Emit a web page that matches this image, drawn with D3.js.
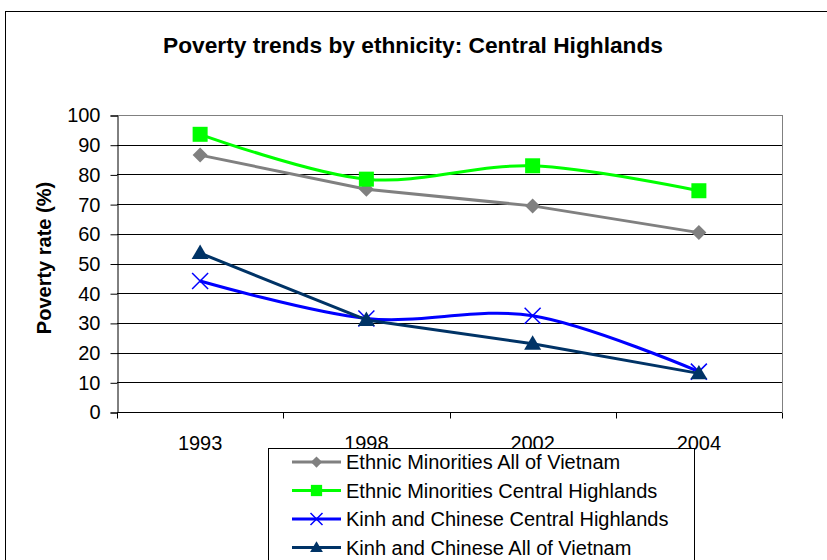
<!DOCTYPE html>
<html lang="en">
<head>
<meta charset="UTF-8">
<title>Poverty trends by ethnicity: Central Highlands</title>
<script src="https://cdnjs.cloudflare.com/ajax/libs/d3/7.8.5/d3.min.js"></script>
<style>
    body { margin: 0; background: #fff; font-family: Arial, 'Liberation Sans', sans-serif; }
    svg { display: block; }
</style>
</head>
<body>
<svg id="chart" width="827" height="560"></svg>
<script>
    // data
    const years = ['1993', '1998', '2002', '2004'];
    const yTicks = [0, 10, 20, 30, 40, 50, 60, 70, 80, 90, 100];
    const emAllVietnam = [86.5, 75, 69.4, 60.4];
    const emCentralHighlands = [93.5, 78.4, 82.9, 74.5];
    const kcCentralHighlands = [44.1, 31.5, 32.4, 13.6];
    const kcAllVietnam = [53.5, 31, 23, 13];

    const series = [
        { name: 'Ethnic Minorities All of Vietnam', values: emAllVietnam, color: '#808080', marker: 'diamond', smooth: false },
        { name: 'Ethnic Minorities Central Highlands', values: emCentralHighlands, color: '#00ff00', marker: 'square', smooth: true },
        { name: 'Kinh and Chinese Central Highlands', values: kcCentralHighlands, color: '#0000ff', marker: 'cross', smooth: true },
        { name: 'Kinh and Chinese All of Vietnam', values: kcAllVietnam, color: '#003366', marker: 'triangle', smooth: false }
    ];

    const svg = d3.select('#chart');
    const plot = { left: 117, top: 115, right: 782, bottom: 412 };

    // outer chart frame (cropped at right and bottom)
    svg.append('rect')
        .attr('x', 5.5).attr('y', 11.5)
        .attr('width', 900).attr('height', 700)
        .attr('fill', 'none').attr('stroke', '#000').attr('stroke-width', 1);

    svg.append('text')
        .attr('x', 413).attr('y', 53)
        .attr('text-anchor', 'middle')
        .attr('font-size', 22).attr('font-weight', 'bold')
        .attr('textLength', 500).attr('lengthAdjust', 'spacingAndGlyphs')
        .text('Poverty trends by ethnicity: Central Highlands');

    const x = d3.scaleBand().domain(years).range([plot.left, plot.right]);
    const y = d3.scaleLinear().domain([0, 100]).range([plot.bottom, plot.top]);

    // gridlines
    svg.append('g').selectAll('line')
        .data(yTicks.filter(d => d > 0))
        .join('line')
        .attr('x1', plot.left).attr('x2', plot.right)
        .attr('y1', d => Math.round(y(d)) + 0.5).attr('y2', d => Math.round(y(d)) + 0.5)
        .attr('stroke', d => d === 100 ? '#808080' : '#000')
        .attr('stroke-width', 1);

    // right border of plot area
    svg.append('line')
        .attr('x1', plot.right + 0.5).attr('x2', plot.right + 0.5)
        .attr('y1', plot.top).attr('y2', plot.bottom)
        .attr('stroke', '#808080');

    // y axis
    const yAxis = svg.append('g')
        .attr('transform', `translate(${plot.left + 0.5},0.5)`)
        .call(d3.axisLeft(y).tickValues(yTicks).tickSize(7).tickPadding(10));
    yAxis.select('.domain').attr('stroke', '#000');
    yAxis.selectAll('text').attr('font-size', 20).attr('font-family', 'Arial, Liberation Sans, sans-serif').attr('fill', '#000');

    // x axis with ticks at category boundaries
    const xAxis = svg.append('g')
        .attr('transform', `translate(0,${plot.bottom + 0.5})`);
    xAxis.append('line')
        .attr('x1', plot.left).attr('x2', plot.right)
        .attr('stroke', '#000');
    const bounds = years.map(d => x(d)).concat([plot.right]);
    xAxis.selectAll('line.tick')
        .data(bounds)
        .join('line')
        .attr('class', 'tick')
        .attr('x1', d => Math.round(d) + 0.5).attr('x2', d => Math.round(d) + 0.5)
        .attr('y1', 0).attr('y2', 6)
        .attr('stroke', '#000');
    xAxis.selectAll('text')
        .data(years)
        .join('text')
        .attr('x', d => x(d) + x.bandwidth() / 2)
        .attr('y', 37)
        .attr('text-anchor', 'middle')
        .attr('font-size', 20)
        .text(d => d);

    // y axis title
    svg.append('text')
        .attr('transform', 'translate(51,258) rotate(-90)')
        .attr('text-anchor', 'middle')
        .attr('font-size', 20).attr('font-weight', 'bold')
        .text('Poverty rate (%)');

    function drawMarker(g, type, color, cx, cy, scale) {
        const s = scale || 1;
        if (type === 'diamond') {
            const r = 7.5 * s;
            g.append('path')
                .attr('d', `M${cx},${cy - r}L${cx + r},${cy}L${cx},${cy + r}L${cx - r},${cy}Z`)
                .attr('fill', color);
        } else if (type === 'square') {
            const r = 7.5 * s;
            g.append('rect')
                .attr('x', cx - r).attr('y', cy - r)
                .attr('width', 2 * r).attr('height', 2 * r)
                .attr('fill', color);
        } else if (type === 'cross') {
            const r = 8 * s;
            g.append('path')
                .attr('d', `M${cx - r},${cy - r}L${cx + r},${cy + r}M${cx - r},${cy + r}L${cx + r},${cy - r}`)
                .attr('stroke', color).attr('stroke-width', 1.5).attr('fill', 'none');
        } else if (type === 'triangle') {
            const r = 8.5 * s;
            g.append('path')
                .attr('d', `M${cx},${cy - r}L${cx + r},${cy + r * 0.7}L${cx - r},${cy + r * 0.7}Z`)
                .attr('fill', color);
        }
    }

    const cx = d => x(d) + x.bandwidth() / 2;

    series.forEach(s => {
        const pts = years.map((yr, i) => [cx(yr), y(s.values[i])]);
        const line = d3.line()
            .curve(s.smooth ? d3.curveCardinal.tension(0) : d3.curveLinear);
        svg.append('path')
            .attr('d', line(pts))
            .attr('fill', 'none')
            .attr('stroke', s.color)
            .attr('stroke-width', 3)
            .attr('stroke-linejoin', 'round');
    });

    series.forEach(s => {
        const g = svg.append('g');
        years.forEach((yr, i) => drawMarker(g, s.marker, s.color, cx(yr), y(s.values[i])));
    });

    // legend
    const legend = svg.append('g');
    legend.append('rect')
        .attr('x', 268.5).attr('y', 448.5)
        .attr('width', 426).attr('height', 200)
        .attr('fill', '#fff').attr('stroke', '#000');
    series.forEach((s, i) => {
        const ly = 462 + i * 28.5;
        legend.append('line')
            .attr('x1', 292).attr('x2', 341)
            .attr('y1', ly).attr('y2', ly)
            .attr('stroke', s.color).attr('stroke-width', 3);
        drawMarker(legend, s.marker, s.color, 316.5, ly, 0.75);
        legend.append('text')
            .attr('x', 346).attr('y', ly + 7)
            .attr('font-size', 20)
            .text(s.name);
    });
</script>
</body>
</html>
